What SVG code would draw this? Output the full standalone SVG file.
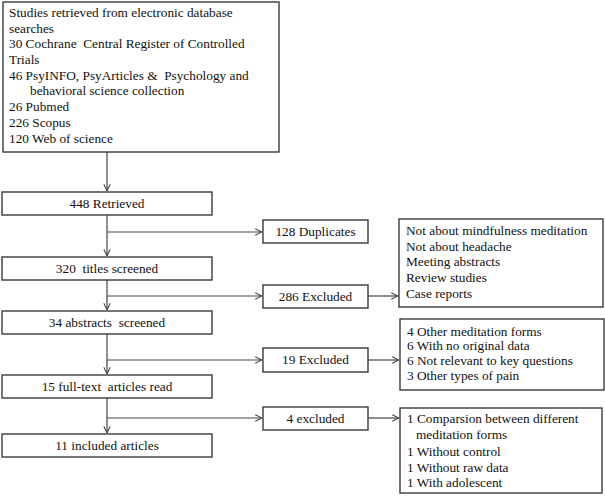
<svg xmlns="http://www.w3.org/2000/svg" width="605" height="496" viewBox="0 0 605 496">
<style>
.box{fill:#fff;stroke:#3a3a3a;stroke-width:1.4}
.t{font-family:"Liberation Serif","Times New Roman",serif;font-size:13.3px;fill:#111;white-space:pre}
.c{text-anchor:middle}
.ln{stroke:#444;stroke-width:1.2;fill:none}
</style>
<defs>
<marker id="ah" viewBox="0 0 10 10" refX="9.5" refY="5" markerWidth="8" markerHeight="8" markerUnits="userSpaceOnUse" orient="auto">
<path d="M1,1 L9.5,5 L1,9" fill="none" stroke="#444" stroke-width="1.3"/>
</marker>
</defs>
<rect width="605" height="496" fill="#fff"/>
<g id="search">
<rect class="box" x="3" y="2" width="276" height="150"/>
<text class="t" x="9" y="17">Studies retrieved from electronic database</text>
<text class="t" x="9" y="33">searches</text>
<text class="t" x="9" y="48">30 Cochrane  Central Register of Controlled</text>
<text class="t" x="9" y="64">Trials</text>
<text class="t" x="9" y="80">46 PsyINFO, PsyArticles &amp;  Psychology and</text>
<text class="t" x="30" y="95">behavioral science collection</text>
<text class="t" x="9" y="111">26 Pubmed</text>
<text class="t" x="9" y="127">226 Scopus</text>
<text class="t" x="9" y="143">120 Web of science</text>
</g>
<g id="retrieved">
<rect class="box" x="2" y="192" width="210" height="23"/>
<text class="t c" x="107" y="208">448 Retrieved</text>
</g>
<g id="duplicates">
<rect class="box" x="263" y="220" width="105" height="23"/>
<text class="t c" x="315.5" y="236">128 Duplicates</text>
</g>
<g id="titles">
<rect class="box" x="2" y="257" width="210" height="23"/>
<text class="t c" x="107" y="273">320  titles screened</text>
</g>
<g id="excl286">
<rect class="box" x="263" y="285" width="105" height="23"/>
<text class="t c" x="315.5" y="301">286 Excluded</text>
</g>
<g id="reasons286">
<rect class="box" x="399" y="219" width="204" height="88"/>
<text class="t" x="406" y="235">Not about mindfulness meditation</text>
<text class="t" x="406" y="251">Not about headache</text>
<text class="t" x="406" y="266">Meeting abstracts</text>
<text class="t" x="406" y="282">Review studies</text>
<text class="t" x="406" y="298">Case reports</text>
</g>
<g id="abstracts">
<rect class="box" x="2" y="311" width="210" height="23"/>
<text class="t c" x="107" y="327">34 abstracts  screened</text>
</g>
<g id="excl19">
<rect class="box" x="263" y="348" width="105" height="24"/>
<text class="t c" x="315.5" y="364">19 Excluded</text>
</g>
<g id="reasons19">
<rect class="box" x="400" y="319" width="204" height="71"/>
<text class="t" x="407" y="336">4 Other meditation forms</text>
<text class="t" x="407" y="350">6 With no original data</text>
<text class="t" x="407" y="365">6 Not relevant to key questions</text>
<text class="t" x="407" y="380">3 Other types of pain</text>
</g>
<g id="fulltext">
<rect class="box" x="2" y="375" width="210" height="23"/>
<text class="t c" x="107" y="391">15 full-text  articles read</text>
</g>
<g id="excl4">
<rect class="box" x="263" y="407" width="105" height="23"/>
<text class="t c" x="315.5" y="423">4 excluded</text>
</g>
<g id="reasons4">
<rect class="box" x="400" y="408" width="202" height="85"/>
<text class="t" x="407" y="423">1 Comparsion between different</text>
<text class="t" x="416" y="439">meditation forms</text>
<text class="t" x="407" y="456">1 Without control</text>
<text class="t" x="407" y="472">1 Without raw data</text>
<text class="t" x="407" y="487">1 With adolescent</text>
</g>
<g id="included">
<rect class="box" x="2" y="434" width="210" height="23"/>
<text class="t c" x="107" y="450">11 included articles</text>
</g>
<g id="connectors">
<path class="ln" d="M107,152 V191" marker-end="url(#ah)"/>
<path class="ln" d="M107,215 V256" marker-end="url(#ah)"/>
<path class="ln" d="M107,232 H262" marker-end="url(#ah)"/>
<path class="ln" d="M107,280 V310" marker-end="url(#ah)"/>
<path class="ln" d="M107,296 H262" marker-end="url(#ah)"/>
<path class="ln" d="M368,296 H398" marker-end="url(#ah)"/>
<path class="ln" d="M107,334 V374" marker-end="url(#ah)"/>
<path class="ln" d="M107,360 H262" marker-end="url(#ah)"/>
<path class="ln" d="M368,360 H399" marker-end="url(#ah)"/>
<path class="ln" d="M107,398 V433" marker-end="url(#ah)"/>
<path class="ln" d="M107,418 H262" marker-end="url(#ah)"/>
<path class="ln" d="M368,418 H399" marker-end="url(#ah)"/>
</g>
</svg>
